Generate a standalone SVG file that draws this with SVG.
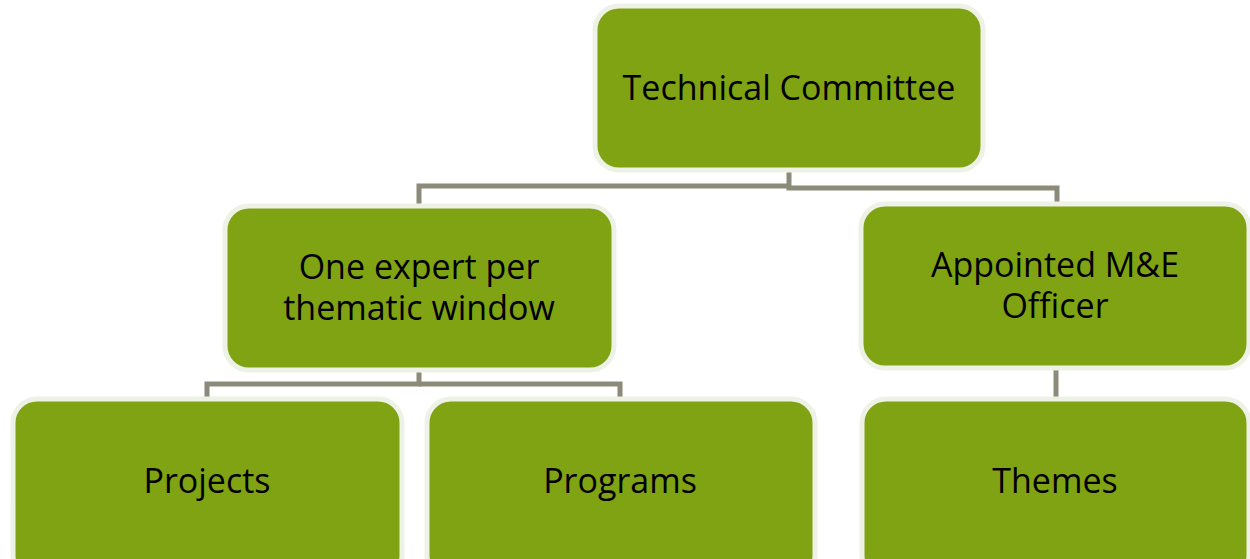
<svg xmlns="http://www.w3.org/2000/svg" width="1250" height="559" viewBox="0 0 1250 559">
<style>
.box{fill:#80a313;stroke:#eef2e6;stroke-width:5}
.lbl{font-family:"Open Sans","Noto Sans",sans-serif;font-size:34px;fill:#000;text-anchor:middle}
.conn{fill:none;stroke:#8c8a78;stroke-width:5}
</style>
<rect width="1250" height="559" fill="#fff"/>
<g id="connectors">
<path class="conn" d="M789 172V186H419V206"/>
<path class="conn" d="M789 186V188H1057V204"/>
<path class="conn" d="M419 370V384H207V399"/>
<path class="conn" d="M419 384H620V399"/>
<path class="conn" d="M1056 369V399"/>
</g>
<g id="technical-committee">
<rect class="box" x="595" y="6" width="388" height="164" rx="24"/>
<text class="lbl" x="789" y="100">Technical Committee</text>
</g>
<g id="one-expert">
<rect class="box" x="225" y="206" width="389" height="164" rx="24"/>
<text class="lbl" x="419" y="279">One expert per<tspan x="419" y="320">thematic window</tspan></text>
</g>
<g id="me-officer">
<rect class="box" x="861" y="204" width="388" height="164" rx="24"/>
<text class="lbl" x="1055" y="277">Appointed M&amp;E<tspan x="1055" y="318">Officer</tspan></text>
</g>
<g id="projects">
<rect class="box" x="13" y="399" width="389" height="180" rx="24"/>
<text class="lbl" x="207" y="493">Projects</text>
</g>
<g id="programs">
<rect class="box" x="427" y="399" width="388" height="180" rx="24"/>
<text class="lbl" x="620" y="493">Programs</text>
</g>
<g id="themes">
<rect class="box" x="862" y="399" width="387" height="180" rx="24"/>
<text class="lbl" x="1055" y="493">Themes</text>
</g>
</svg>
